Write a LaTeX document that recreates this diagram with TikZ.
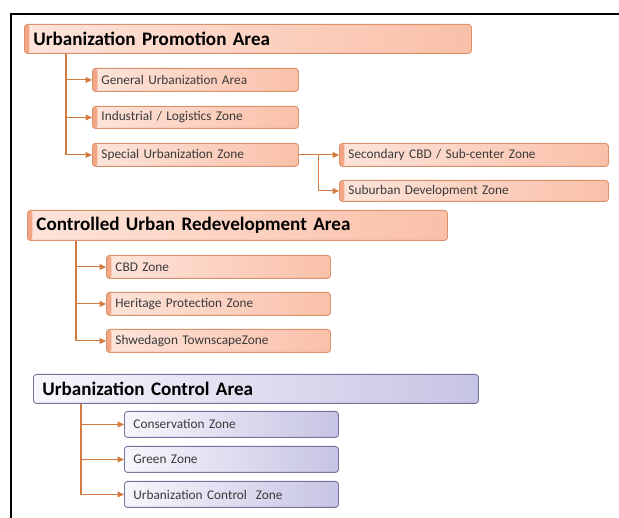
\documentclass[tikz,border=0pt]{standalone}
\usepackage{fontspec}
\setmainfont{Carlito}[WordSpace=0.8]
\usetikzlibrary{arrows.meta}
\definecolor{oborder}{HTML}{D9926C}
\definecolor{oleft}{HTML}{FDE4DA}
\definecolor{oright}{HTML}{FAC0A9}
\definecolor{ostrip}{HTML}{F2A686}
\definecolor{bborder}{HTML}{77739F}
\definecolor{bleft}{HTML}{F7F6FC}
\definecolor{bright}{HTML}{C6C4E3}
\definecolor{conncol}{HTML}{D27B41}
\definecolor{textcol}{HTML}{3A3A3A}
\tikzset{
  basebox/.style={rounded corners=3pt, anchor=north west, inner xsep=9pt, inner ysep=0pt,
    align=left, text=textcol},
  obox/.style={basebox, draw=oborder, line width=0.9pt, left color=oleft, right color=oright,
    path picture={\fill[ostrip] (path picture bounding box.north west) rectangle ([xshift=5pt]path picture bounding box.south west);}},
  bbox/.style={basebox, draw=bborder, line width=0.9pt, left color=bleft, right color=bright},
  headfont/.style={font=\fontsize{19.1}{20}\selectfont\bfseries, text=black},
  smallfont/.style={font=\fontsize{13.3}{14}\selectfont},
  conn/.style={draw=conncol, line width=1.1pt, -{Triangle[length=6.5pt,width=6pt]}},
}
\begin{document}
\begin{tikzpicture}[x=1pt,y=-1pt]
\useasboundingbox (0,0) rectangle (619,518);
\draw[line width=2pt] (11,518) -- (11,14) -- (619,14);

% group 1
\node[obox, headfont, text width=429pt, minimum height=29pt] (pa) at (24,24) {Urbanization Promotion Area};
\node[obox, smallfont, text width=188pt, minimum height=23pt] (g1) at (92,68) {General Urbanization Area};
\node[obox, smallfont, text width=188pt, minimum height=22pt] (g2) at (92,106) {Industrial / Logistics Zone};
\node[obox, smallfont, text width=188pt, minimum height=23pt] (g3) at (92,143) {Special Urbanization Zone};
\node[obox, smallfont, text width=251pt, minimum height=23pt] (s1) at (339,143) {Secondary CBD / Sub-center Zone};
\node[obox, smallfont, text width=251pt, minimum height=21pt] (s2) at (339,180) {Suburban Development Zone};

\draw[conn] ([xshift=42pt]pa.south west) |- (g1.west);
\draw[conn] ([xshift=42pt]pa.south west) |- (g2.west);
\draw[conn] ([xshift=42pt]pa.south west) |- (g3.west);
\draw[conn] (g3.east) -- (s1.west);
\draw[conn] (g3.east) -- ++(20,0) |- (s2.west);

% group 2
\node[obox, headfont, text width=402pt, minimum height=30pt] (cr) at (27,210) {Controlled Urban Redevelopment Area};
\node[obox, smallfont, text width=206pt, minimum height=23pt] (c1) at (106,255) {CBD Zone};
\node[obox, smallfont, text width=206pt, minimum height=23pt] (c2) at (106,292) {Heritage Protection Zone};
\node[obox, smallfont, text width=206pt, minimum height=23pt] (c3) at (106,329) {Shwedagon TownscapeZone};

\draw[conn] ([xshift=49pt]cr.south west) |- (c1.west);
\draw[conn] ([xshift=49pt]cr.south west) |- (c2.west);
\draw[conn] ([xshift=49pt]cr.south west) |- (c3.west);

% group 3
\node[bbox, headfont, text width=427pt, minimum height=29pt] (uc) at (33,374) {Urbanization Control Area};
\node[bbox, smallfont, text width=196pt, minimum height=26pt] (u1) at (124,411) {Conservation Zone};
\node[bbox, smallfont, text width=196pt, minimum height=26pt] (u2) at (124,446) {Green Zone};
\node[bbox, smallfont, text width=196pt, minimum height=26pt] (u3) at (124,481) {Urbanization Control\ \ Zone};

\draw[conn] ([xshift=48pt]uc.south west) |- (u1.west);
\draw[conn] ([xshift=48pt]uc.south west) |- (u2.west);
\draw[conn] ([xshift=48pt]uc.south west) |- (u3.west);
\end{tikzpicture}
\end{document}
